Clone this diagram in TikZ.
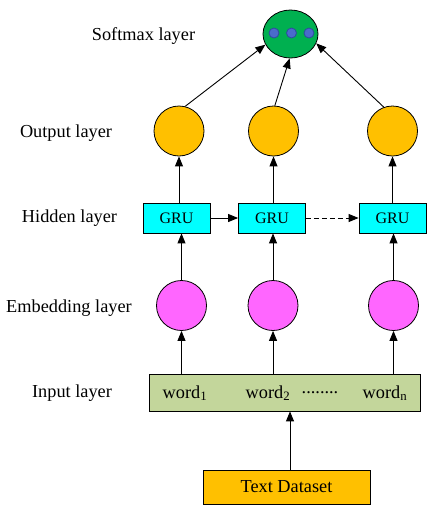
\documentclass[tikz,border=0pt]{standalone}
\usepackage{fontspec}
\setmainfont{Liberation Serif}
\usetikzlibrary{shapes.geometric,arrows.meta}
\definecolor{softgreen}{HTML}{00B050}
\definecolor{dotblue}{HTML}{4A6BCB}
\definecolor{dotedge}{HTML}{2E4A9E}
\definecolor{outorange}{HTML}{FFC000}
\definecolor{embpink}{HTML}{FF66FF}
\definecolor{grucyan}{HTML}{00FFFF}
\definecolor{inputgreen}{HTML}{C3D69B}
\tikzset{
  lbl/.style={font=\fontsize{18.3}{20}\selectfont, inner sep=0pt},
  outc/.style={circle, draw, fill=outorange, minimum size=50pt, inner sep=0pt, line width=0.8pt},
  embc/.style={circle, draw, fill=embpink, minimum size=50pt, inner sep=0pt, line width=0.8pt},
  grubox/.style={draw, fill=grucyan, minimum width=67pt, minimum height=30pt, inner sep=0pt, line width=0.8pt, font=\fontsize{16}{18}\selectfont},
  sdot/.style={circle, draw=dotedge, fill=dotblue, minimum size=10pt, inner sep=0pt, line width=0.8pt},
  arr/.style={-{Triangle[length=10pt,width=8pt]}, line width=0.9pt},
}
\begin{document}
\begin{tikzpicture}[x=1pt,y=-1pt]
\useasboundingbox (0,0) rectangle (434,512);
% softmax
\node[ellipse, draw, fill=softgreen, minimum width=55pt, minimum height=48pt, inner sep=0pt, line width=0.8pt] (soft) at (290.5,34) {};
\node[sdot] (d1) at (274,33) {};
\node[sdot] (d2) at (291.5,33) {};
\node[sdot] (d3) at (309,33) {};
% output
\node[outc] (o1) at (179,131) {};
\node[outc] (o2) at (273.5,131) {};
\node[outc] (o3) at (392.5,131) {};
% GRU
\node[grubox] (g1) at (176.5,218) {GRU};
\node[grubox] (g2) at (272,218) {GRU};
\node[grubox] (g3) at (392.5,218) {GRU};
% embedding
\node[embc] (e1) at (181.5,305.5) {};
\node[embc] (e2) at (273,305.5) {};
\node[embc] (e3) at (393.5,305.5) {};
% input
\node[draw, fill=inputgreen, minimum width=271pt, minimum height=37pt, inner sep=0pt, line width=0.8pt] (inp) at (284.5,392.5) {};
\node[lbl] (w1) at (185,393) {word\textsubscript{1}};
\node[lbl] (w2) at (268,393) {word\textsubscript{2}};
\node[lbl] (wd) at (320,393) {........};
\node[lbl] (wn) at (385,393) {word\textsubscript{n}};
% dataset
\node[draw, fill=outorange, minimum width=167pt, minimum height=34pt, inner sep=0pt, line width=0.8pt, lbl] (ds) at (286.5,487) {Text Dataset};
% labels
\node[lbl] (ls) at (143.5,36) {Softmax layer};
\node[lbl] (lo) at (66,133) {Output layer};
\node[lbl] (lh) at (69.5,218) {Hidden layer};
\node[lbl] (le) at (69,308) {Embedding layer};
\node[lbl] (li) at (72,393) {Input layer};
% arrows
\draw[arr] (ds.north -| 290,0) -- (inp.south -| 290,0);
\draw[arr] (inp.north -| e1) -- (e1.south);
\draw[arr] (inp.north -| e2) -- (e2.south);
\draw[arr] (inp.north -| e3) -- (e3.south);
\draw[arr] (e1.north) -- (e1.north |- g1.south);
\draw[arr] (e2.north) -- (e2.north |- g2.south);
\draw[arr] (e3.north) -- (e3.north |- g3.south);
\draw[arr] (g1.north -| o1) -- (o1.south);
\draw[arr] (g2.north -| o2) -- (o2.south);
\draw[arr] (g3.north -| o3) -- (o3.south);
\draw[arr] (g1.east) -- (g2.west);
\draw[arr, dash pattern=on 5pt off 3pt] (g2.east) -- (g3.west);
\draw[arr] (o1.76) -- (soft.203);
\draw[arr] (o2.87) -- (soft.268);
\draw[arr] (o3.110) -- (soft.-20);
\end{tikzpicture}
\end{document}
